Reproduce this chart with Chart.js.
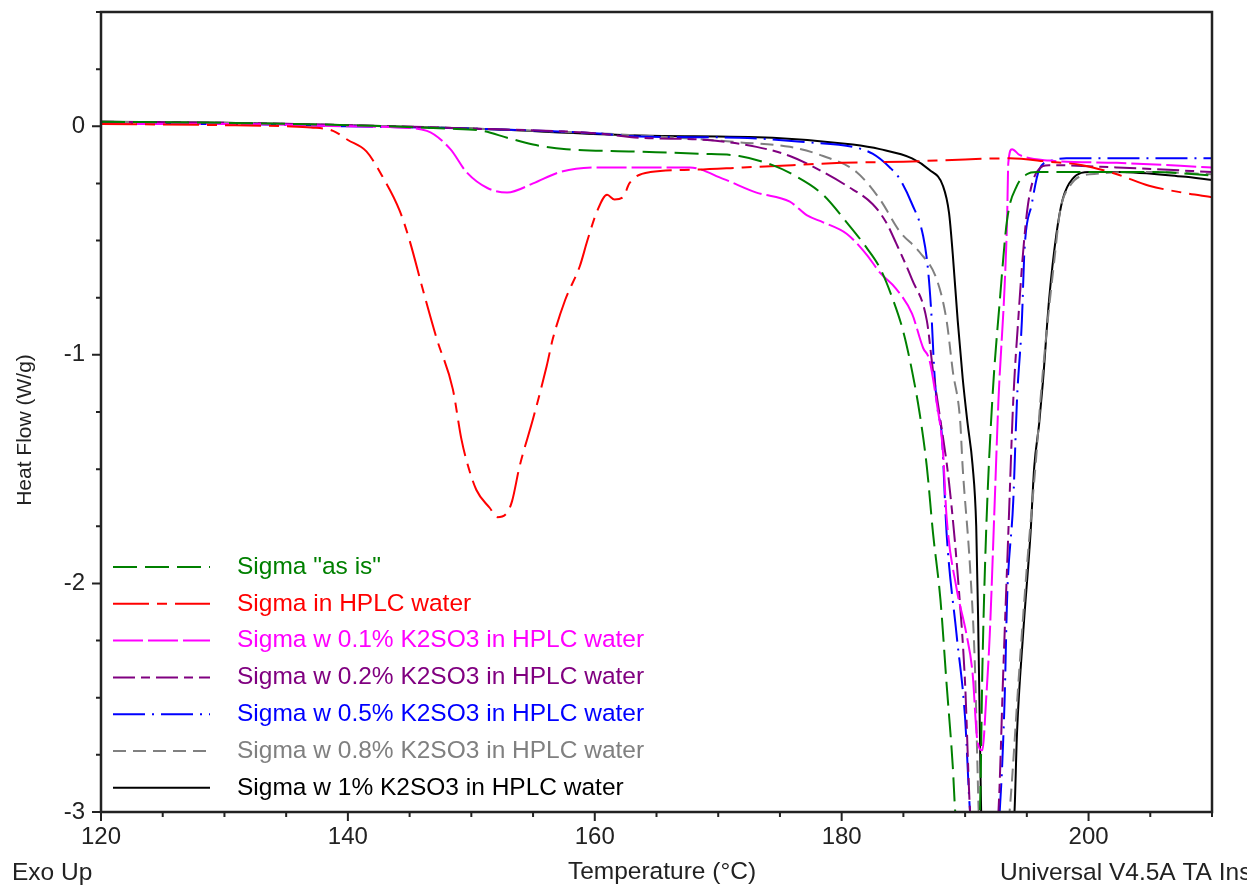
<!DOCTYPE html>
<html>
<head>
<meta charset="utf-8">
<title>DSC Heat Flow</title>
<script src="https://cdn.jsdelivr.net/npm/chart.js@4.4.0/dist/chart.umd.min.js"></script>
<style>
  html, body { margin: 0; padding: 0; background: #fff; }
</style>
</head>
<body>
<canvas id="dscChart" width="1247" height="888"></canvas>
<script>
// Temperature (°C) and heat flow (W/g) for each sample
const asIsT = [120, 130, 140, 148, 150.9, 152.9, 155, 157.7, 163.1, 168.5, 171.7, 174.4, 176, 178.5, 180.4, 182, 183.1, 184.1, 185, 185.7, 186.3, 186.9, 187.4, 188, 188.5, 189, 189.2, 190.2, 191.2, 191.4, 191.7, 192.2, 192.8, 193.4, 194.2, 195, 195.8, 200, 205, 210];
const asIsHF = [0.02, 0.015, 0.005, -0.01, -0.02, -0.05, -0.08, -0.10, -0.11, -0.12, -0.13, -0.17, -0.21, -0.30, -0.42, -0.53, -0.62, -0.75, -0.90, -1.07, -1.25, -1.49, -1.78, -2.07, -2.44, -2.80, -3.0, -3.4, -3.0, -2.37, -1.78, -1.2, -0.77, -0.41, -0.26, -0.21, -0.20, -0.20, -0.20, -0.215];

const hplcT = [120, 130, 135, 137, 138.8, 140, 141.5, 142.8, 144.2, 145, 146.1, 147.2, 148.5, 149.2, 149.6, 150.4, 151.5, 152.1, 152.9, 153.3, 153.9, 155, 156.1, 156.6, 157.6, 158.8, 159.4, 160.2, 161, 161.6, 162.3, 162.8, 164.5, 168, 172, 176, 180, 185, 190, 193.6, 196.8, 199.5, 202.3, 204.9, 207.6, 210];
const hplcHF = [0.01, 0.005, 0, -0.005, -0.02, -0.06, -0.11, -0.22, -0.37, -0.50, -0.72, -0.93, -1.15, -1.37, -1.46, -1.59, -1.67, -1.71, -1.69, -1.64, -1.49, -1.28, -1.05, -0.93, -0.76, -0.61, -0.50, -0.37, -0.30, -0.32, -0.31, -0.25, -0.20, -0.19, -0.18, -0.17, -0.16, -0.155, -0.145, -0.14, -0.155, -0.17, -0.21, -0.26, -0.29, -0.31];

const k01T = [120, 130, 140, 144, 146.4, 148.3, 149.6, 151.3, 152.9, 155, 157.2, 160.4, 163.6, 167.7, 170.4, 173.1, 175.8, 177.2, 178.5, 180.4, 182, 183.1, 184.4, 185.7, 186.6, 187.1, 187.7, 188.2, 188.5, 189.3, 190.1, 190.6, 191, 191.4, 191.7, 192, 192.4, 192.7, 193.2, 193.4, 193.5, 193.8, 194.4, 196.8, 202.3, 210];
const k01HF = [0.01, 0.01, 0.0, -0.005, -0.02, -0.10, -0.20, -0.27, -0.29, -0.25, -0.20, -0.18, -0.18, -0.18, -0.23, -0.29, -0.33, -0.39, -0.42, -0.47, -0.56, -0.64, -0.71, -0.82, -0.97, -1.02, -1.21, -1.42, -1.71, -2.02, -2.22, -2.39, -2.69, -2.73, -2.51, -2.22, -1.64, -1.20, -0.70, -0.41, -0.16, -0.10, -0.125, -0.15, -0.16, -0.18];

const k02T = [120, 130, 140, 150, 160, 163.6, 169.1, 173.1, 175.8, 178.5, 180.4, 182.5, 183.6, 184.4, 185.7, 186.9, 187.4, 187.9, 188.7, 189.5, 190, 190.4, 191.5, 192.7, 193.1, 193.5, 193.9, 194.3, 194.7, 195.1, 195.8, 196.8, 202.3, 210];
const k02HF = [0.02, 0.015, 0.005, -0.01, -0.03, -0.05, -0.06, -0.09, -0.13, -0.20, -0.26, -0.34, -0.42, -0.51, -0.67, -0.85, -1.07, -1.25, -1.56, -2.03, -2.44, -3.0, -3.5, -3.0, -2.37, -1.78, -1.20, -0.85, -0.55, -0.34, -0.20, -0.17, -0.18, -0.20];

const k05T = [120, 130, 140, 150, 160, 163.6, 171.7, 177.2, 180.9, 182.5, 183.9, 184.7, 185.7, 186.6, 187, 187.3, 187.5, 187.8, 188.1, 188.5, 189.3, 190, 190.4, 191.6, 192.8, 193.2, 193.4, 193.9, 194.2, 194.6, 194.8, 195.4, 196, 197, 198.2, 210];
const k05HF = [0.01, 0.01, 0.0, -0.01, -0.03, -0.045, -0.05, -0.07, -0.09, -0.12, -0.18, -0.23, -0.34, -0.48, -0.63, -0.85, -1.07, -1.25, -1.34, -1.78, -2.22, -2.59, -3.0, -3.5, -3.0, -2.51, -2.07, -1.64, -1.20, -0.85, -0.55, -0.34, -0.19, -0.15, -0.14, -0.14];

const k08T = [120, 130, 140, 150, 163.6, 171.7, 175.8, 178.5, 181.2, 183.1, 184.7, 186.3, 187.7, 188.5, 189, 189.6, 189.8, 190.4, 190.8, 191, 191.1, 192.3, 193.6, 194.4, 195, 195.8, 196.1, 196.6, 197.2, 197.7, 198.5, 200.1, 204.9, 210];
const k08HF = [0.02, 0.015, 0.005, -0.01, -0.04, -0.07, -0.09, -0.13, -0.20, -0.32, -0.46, -0.55, -0.67, -0.85, -1.07, -1.29, -1.49, -1.93, -2.37, -2.80, -3.0, -3.6, -3.0, -2.37, -1.93, -1.42, -1.20, -0.90, -0.60, -0.37, -0.26, -0.21, -0.20, -0.21];

const k1T = [120, 130, 140, 150, 163.6, 174.4, 180.9, 183.1, 185.7, 187.1, 188.2, 188.7, 189, 189.4, 189.8, 190.2, 190.6, 190.9, 191.05, 191.2, 191.3, 192.6, 194, 194.2, 194.7, 195.3, 195.6, 196, 196.3, 196.8, 197.4, 197.9, 198.7, 200.1, 202.3, 207.6, 210];
const k1HF = [0.02, 0.015, 0.005, -0.01, -0.04, -0.05, -0.08, -0.10, -0.14, -0.19, -0.26, -0.38, -0.56, -0.85, -1.10, -1.30, -1.48, -1.75, -2.14, -2.66, -3.0, -3.7, -3.0, -2.66, -2.22, -1.78, -1.49, -1.30, -1.12, -0.76, -0.47, -0.32, -0.23, -0.20, -0.20, -0.22, -0.235];

const seriesNames = ['Sigma "as is"', 'Sigma in HPLC water', 'Sigma w 0.1% K2SO3 in HPLC water', 'Sigma w 0.2% K2SO3 in HPLC water', 'Sigma w 0.5% K2SO3 in HPLC water', 'Sigma w 0.8% K2SO3 in HPLC water', 'Sigma w 1% K2SO3 in HPLC water'];

const xTicks = [120, 140, 160, 180, 200];
const yTicks = [-3, -2, -1, 0];

const FONT = "'Liberation Sans', Arial, sans-serif";
const AXIS = '#222';

function pts(t, hf) {
  return t.map((x, i) => ({ x: x, y: hf[i] }));
}

function line(label, t, hf, color, dash) {
  return {
    label: label,
    data: pts(t, hf),
    borderColor: color,
    backgroundColor: color,
    borderWidth: 2,
    borderDash: dash,
    pointRadius: 0,
    cubicInterpolationMode: 'monotone',
    fill: false,
    clip: 0
  };
}

// frame, major/minor tick marks and the in-plot legend
const frameAndLegend = {
  id: 'frameAndLegend',
  afterDatasetsDraw(chart) {
    const { ctx, chartArea: a, scales: { x, y } } = chart;
    ctx.save();
    ctx.strokeStyle = AXIS;
    ctx.lineWidth = 2.5;
    ctx.setLineDash([]);
    ctx.strokeRect(a.left, a.top, a.right - a.left, a.bottom - a.top);

    ctx.lineWidth = 2;
    ctx.beginPath();
    for (let v = 120; v <= 210; v += 5) {
      const px = x.getPixelForValue(v);
      const len = xTicks.includes(v) ? 9 : 5;
      ctx.moveTo(px, a.bottom);
      ctx.lineTo(px, a.bottom + len);
    }
    for (let v = -3; v <= 0.5; v += 0.25) {
      const py = y.getPixelForValue(v);
      const len = yTicks.includes(v) ? 9 : 5;
      ctx.moveTo(a.left, py);
      ctx.lineTo(a.left - len, py);
    }
    ctx.stroke();

    // legend
    ctx.font = '24.5px ' + FONT;
    ctx.textBaseline = 'middle';
    chart.data.datasets.forEach((ds, i) => {
      const ly = 567 + i * 36.8;
      ctx.strokeStyle = ds.borderColor;
      ctx.lineWidth = 2;
      ctx.setLineDash(ds.borderDash);
      ctx.beginPath();
      ctx.moveTo(113, ly);
      ctx.lineTo(210, ly);
      ctx.stroke();
      ctx.fillStyle = ds.borderColor;
      ctx.fillText(ds.label, 237, ly);
    });
    ctx.restore();
  },
  afterDraw(chart) {
    const ctx = chart.ctx;
    ctx.save();
    ctx.fillStyle = AXIS;
    ctx.textBaseline = 'middle';
    ctx.font = '24.5px ' + FONT;
    ctx.textAlign = 'left';
    ctx.fillText('Exo Up', 12, 873);
    ctx.fillText('Universal V4.5A TA Instruments', 1000, 873);
    ctx.textAlign = 'center';
    ctx.fillText('Temperature (\u00B0C)', 662, 872);
    ctx.translate(25, 430);
    ctx.rotate(-Math.PI / 2);
    ctx.font = '21px ' + FONT;
    ctx.fillText('Heat Flow (W/g)', 0, 0);
    ctx.restore();
  }
};

new Chart(document.getElementById('dscChart').getContext('2d'), {
  type: 'line',
  data: {
    datasets: [
      line(seriesNames[0], asIsT, asIsHF, '#008000', [24, 8]),
      line(seriesNames[1], hplcT, hplcHF, '#ff0000', [36, 8, 10, 8]),
      line(seriesNames[2], k01T, k01HF, '#ff00ff', [30, 5]),
      line(seriesNames[3], k02T, k02HF, '#800080', [22, 6, 9, 6]),
      line(seriesNames[4], k05T, k05HF, '#0000ff', [32, 7, 2, 7]),
      line(seriesNames[5], k08T, k08HF, '#808080', [13, 7]),
      line(seriesNames[6], k1T, k1HF, '#000000', [])
    ]
  },
  options: {
    responsive: false,
    animation: false,
    layout: { padding: { top: 12, right: 35, left: 0, bottom: 0 } },
    plugins: {
      legend: { display: false },
      tooltip: { enabled: false }
    },
    scales: {
      x: {
        type: 'linear',
        min: 120,
        max: 210,
        afterFit: s => { s.height = 76; s.paddingLeft = 0; s.paddingRight = 0; },
        grid: { display: false, drawTicks: false },
        border: { display: false },
        ticks: {
          stepSize: 5,
          autoSkip: false,
          maxRotation: 0,
          padding: 11,
          color: AXIS,
          font: { family: FONT, size: 24 },
          callback: v => (xTicks.includes(v) ? String(v) : '')
        }
      },
      y: {
        type: 'linear',
        min: -3,
        max: 0.5,
        afterFit: s => { s.width = 101; s.paddingTop = 0; s.paddingBottom = 0; },
        grid: { display: false, drawTicks: false },
        border: { display: false },
        ticks: {
          stepSize: 0.25,
          autoSkip: false,
          padding: 16,
          color: AXIS,
          font: { family: FONT, size: 24 },
          callback: v => (yTicks.includes(v) ? String(v) : '')
        }
      }
    }
  },
  plugins: [frameAndLegend]
});
</script>
</body>
</html>
